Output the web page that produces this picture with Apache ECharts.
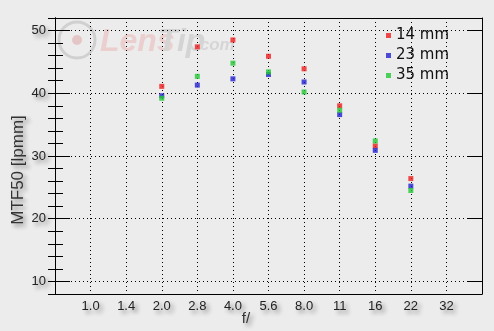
<!DOCTYPE html>
<html>
<head>
<meta charset="utf-8">
<script src="https://cdn.jsdelivr.net/npm/echarts@6/dist/echarts.min.js"></script>
<style>
html,body{margin:0;padding:0;background:#ececec;}
#c{width:494px;height:331px;}
</style>
</head>
<body>
<div id="c"></div>
<script>
var fStops = ['1.0','1.4','2.0','2.8','4.0','5.6','8.0','11','16','22','32'];
var yTicks = [10, 20, 30, 40, 50];
var seriesNames = ['14 mm','23 mm','35 mm'];
var mm14 = [null, null, 41.1, 47.4, 48.5, 45.9, 43.9, 38.0, 31.6, 26.4, null];
var mm23 = [null, null, 39.6, 41.3, 42.3, 43.0, 41.8, 36.6, 30.9, 25.2, null];
var mm35 = [null, null, 39.2, 42.7, 44.8, 43.4, 40.2, 37.3, 32.4, 24.5, null];
var colors = ['#f01e1e', '#2222d2', '#22c834'];

function toPts(arr){
  var out = [];
  arr.forEach(function(v,i){ if(v!==null) out.push([i+1, v]); });
  return out;
}

var chart = echarts.init(document.getElementById('c'), null, {renderer:'canvas'});

var shadow = {
  textShadowColor: 'rgba(0,0,0,0.45)',
  textShadowBlur: 4,
  textShadowOffsetX: 3,
  textShadowOffsetY: 3
};
var dotted = {color:'#000', width:1, type:[1,3]};
var blackLine = {show: true, lineStyle: {color: '#000', width: 1}};

function yAx(pos, opts){
  return Object.assign({
    type: 'value', gridIndex: 0, position: pos, min: 8, max: 52, interval: 2,
    axisLine: blackLine, axisLabel: {show: false}, splitLine: {show: false}
  }, opts);
}

var option = {
  backgroundColor: '#ececec',
  animation: false,
  color: colors,
  grid: [{left: 55, right: 12, top: 18, bottom: 37}],
  legend: {
    orient: 'vertical',
    left: 381, top: 23,
    itemWidth: 5, itemHeight: 5, itemGap: 5,
    icon: 'rect',
    data: seriesNames,
    textStyle: {fontFamily: 'DejaVu Sans', fontSize: 15, color: '#111'}
  },
  xAxis: [
    {
      type: 'value', position: 'bottom', min: 0, max: 12, interval: 1,
      axisLine: blackLine,
      axisTick: {show: false},
      axisLabel: Object.assign({
        margin: 6, color: '#222', fontFamily: 'Liberation Sans', fontSize: 13,
        formatter: function(v){ return fStops[v-1] || ''; }
      }, shadow),
      splitLine: {show: true, lineStyle: dotted}
    },
    {
      type: 'value', position: 'top', min: 0, max: 12, interval: 1,
      axisLine: blackLine,
      axisTick: {show: false}, axisLabel: {show: false}, splitLine: {show: false}
    }
  ],
  yAxis: [
    yAx('left', {axisTick: {show: true, inside: true, length: 8, lineStyle: {color: '#000'}}}),
    yAx('right', {axisTick: {show: true, inside: true, length: 7, lineStyle: {color: '#000'}}}),
    yAx('left', {
      axisTick: {show: true, inside: true, length: 15, customValues: yTicks, lineStyle: {color: '#000'}},
      axisLabel: Object.assign({
        show: true, margin: 9, color: '#222', fontFamily: 'Liberation Sans', fontSize: 13,
        customValues: yTicks
      }, shadow)
    }),
    yAx('right', {
      axisTick: {show: true, inside: true, length: 15, customValues: yTicks, lineStyle: {color: '#000'}}
    })
  ],
  graphic: [
    {type: 'circle', z: -10, shape: {cx: 77, cy: 40, r: 18}, style: {fill: 'none', stroke: '#d0d0d0', lineWidth: 3}},
    {type: 'circle', z: -10, shape: {cx: 77, cy: 40, r: 5}, style: {fill: '#e4c6c6'}},
    {type: 'text', z: -10, left: 100, top: 26, style: {text: 'Lens', font: 'italic bold 32px Liberation Sans', fill: '#ebcfcf'}},
    {type: 'text', z: -10, left: 158, top: 26, style: {text: 'Tip', font: 'italic bold 32px Liberation Sans', fill: '#d4d4d4'}},
    {type: 'text', z: -10, left: 195, top: 37, style: {text: '.com', font: 'italic bold 17px Liberation Sans', fill: '#d6d6d6'}},
    {type: 'text', z: 5, x: 18, y: 170, rotation: Math.PI/2,
      style: Object.assign({text: 'MTF50 [lpmm]', font: '17px Liberation Sans', fill: '#333', align: 'center', verticalAlign: 'middle'}, shadow)},
    {type: 'text', z: 5, x: 246, y: 319,
      style: Object.assign({text: 'f/', font: '15px Liberation Sans', fill: '#333', align: 'center', verticalAlign: 'middle'}, shadow)}
  ],
  series: [
    {name: seriesNames[0], type: 'scatter', symbol: 'rect', symbolSize: 5, data: toPts(mm14),
      markLine: {silent: true, symbol: 'none', label: {show: false}, z: 1,
        lineStyle: dotted, emphasis: {disabled: true},
        data: yTicks.map(function(t){ return {yAxis: t}; })}},
    {name: seriesNames[1], type: 'scatter', symbol: 'rect', symbolSize: 5, data: toPts(mm23)},
    {name: seriesNames[2], type: 'scatter', symbol: 'rect', symbolSize: 5, data: toPts(mm35)}
  ]
};
chart.setOption(option);
</script>
</body>
</html>
